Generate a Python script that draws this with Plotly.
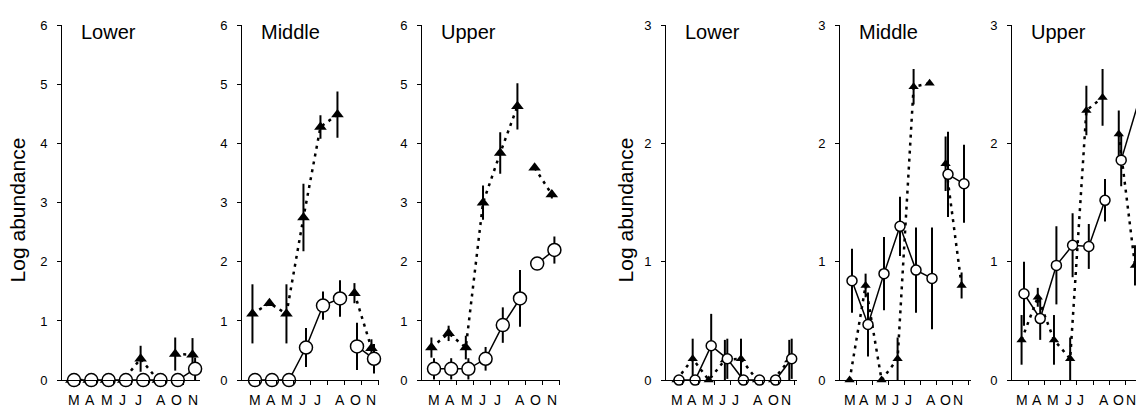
import plotly.graph_objects as go

# ---- data -----------------------------------------------------------------
months = ["M", "A", "M", "J", "J", "A", "O", "N"]
zones = ["Lower", "Middle", "Upper"]

# left group (scale 0-6)
lower_a_circ = [0, 0, 0, 0, 0, 0, 0, 0.19]
lower_a_circ_err = [0, 0, 0, 0, 0, 0, 0, 0.19]
lower_a_tri = [0, 0, 0, 0, 0.36, 0, 0.44, 0.43]
lower_a_tri_err = [0, 0, 0, 0, 0.22, 0, 0.28, 0.28]

middle_a_circ = [0, 0, 0, 0.55, 1.26, 1.38, 0.57, 0.36]
middle_a_circ_err = [0, 0, 0, 0.33, 0.24, 0.31, 0.40, 0.25]
middle_a_tri = [1.12, 1.30, 1.12, 2.75, 4.28, 4.49, 1.47, 0.54]
middle_a_tri_err = [0.50, 0, 0.50, 0.57, 0.20, 0.39, 0.17, 0.15]

upper_a_circ = [0.19, 0.19, 0.19, 0.36, 0.93, 1.38, 1.97, 2.20]
upper_a_circ_err = [0.18, 0.18, 0.18, 0.20, 0.30, 0.48, 0.10, 0.23]
upper_a_tri = [0.55, 0.79, 0.55, 3.00, 3.84, 4.63, 3.59, 3.14]
upper_a_tri_err = [0.17, 0.13, 0.20, 0.29, 0.35, 0.39, 0, 0.07]

# right group (scale 0-3)
lower_b_circ = [0, 0, 0.29, 0.18, 0, 0, 0, 0.18]
lower_b_circ_err = [0, 0, 0.27, 0.17, 0, 0, 0, 0.17]
lower_b_tri = [0, 0.18, 0, 0.17, 0.18, 0, 0, 0.17]
lower_b_tri_err = [0, 0.17, 0, 0.17, 0.17, 0, 0, 0.17]

middle_b_circ = [0.84, 0.47, 0.90, 1.30, 0.93, 0.86, 1.74, 1.66]
middle_b_circ_err = [0.27, 0.27, 0.31, 0.25, 0.36, 0.43, 0.36, 0.33]
middle_b_tri = [0, 0.80, 0, 0.18, 2.48, 2.51, 1.83, 0.80]
middle_b_tri_err = [0, 0.10, 0, 0.18, 0.15, 0, 0.23, 0.11]

upper_b_circ = [0.73, 0.52, 0.97, 1.14, 1.13, 1.52, 1.86, 2.32]
upper_b_circ_err = [0.27, 0.18, 0.33, 0.27, 0.19, 0.18, 0.22, 0.28]
upper_b_tri = [0.34, 0.70, 0.34, 0.18, 2.28, 2.39, 2.08, 0.97]
upper_b_tri_err = [0.21, 0.08, 0.21, 0.18, 0.21, 0.24, 0.20, 0.17]

# ---- layout geometry (pixels) ----------------------------------------------
W, H = 1136, 417
Y_TOP, Y_BOT = 19, 387
FONT = "Arial, Liberation Sans, sans-serif"

# (axis left px, first point px, px per month, axis right px, y max)
panels = [
    dict(name=zones[0], ax=62, x0=74, dx=17.3, end=200, ymax=6, big=True,
         circ=lower_a_circ, ce=lower_a_circ_err, tri=lower_a_tri, te=lower_a_tri_err),
    dict(name=zones[1], ax=242, x0=255, dx=17.0, end=379, ymax=6, big=True,
         circ=middle_a_circ, ce=middle_a_circ_err, tri=middle_a_tri, te=middle_a_tri_err),
    dict(name=zones[2], ax=422, x0=434, dx=17.2, end=560, ymax=6, big=True,
         circ=upper_a_circ, ce=upper_a_circ_err, tri=upper_a_tri, te=upper_a_tri_err),
    dict(name=zones[0], ax=666, x0=679, dx=16.1, end=797, ymax=3, big=False,
         circ=lower_b_circ, ce=lower_b_circ_err, tri=lower_b_tri, te=lower_b_tri_err),
    dict(name=zones[1], ax=840, x0=852, dx=16.0, end=971, ymax=3, big=False,
         circ=middle_b_circ, ce=middle_b_circ_err, tri=middle_b_tri, te=middle_b_tri_err),
    dict(name=zones[2], ax=1012, x0=1024, dx=16.2, end=1136, ymax=3, big=False,
         circ=upper_b_circ, ce=upper_b_circ_err, tri=upper_b_tri, te=upper_b_tri_err),
]

# month label offsets (in month units) for the two panel sizes
label_pos_big = [0, 0.95, 1.9, 2.8, 3.7, 5.0, 5.9, 6.85]
label_pos_small = [-0.15, 0.78, 1.8, 2.73, 3.5, 4.93, 5.85, 6.62]

TRI_SHIFT = -0.15          # triangles sit slightly left of the circles
SEGMENTS = [(0, 6), (6, 8)]  # no sampling in September -> line break

fig = go.Figure()
annotations = []


def px_to_paper_x(p):
    return p / W


def px_to_paper_y(p):
    return 1 - p / H


for k, p in enumerate(panels, start=1):
    xa = "x" if k == 1 else f"x{k}"
    ya = "y" if k == 1 else f"y{k}"
    xr = [(p["ax"] - p["x0"]) / p["dx"], (p["end"] - p["x0"]) / p["dx"]]
    msize_c = 13 if p["big"] else 10
    msize_t = 11 if p["big"] else 9

    for series, err, is_tri in ((p["tri"], p["te"], True), (p["circ"], p["ce"], False)):
        for a, b in SEGMENTS:
            xs = [i + (TRI_SHIFT if is_tri else 0) for i in range(a, b)]
            ys = series[a:b]
            e_up = err[a:b]
            e_dn = [min(e, v) for e, v in zip(e_up, ys)]
            fig.add_trace(go.Scatter(
                x=xs, y=ys, xaxis=xa, yaxis=ya, mode="lines+markers",
                cliponaxis=False, showlegend=False, hoverinfo="skip",
                line=dict(color="black", width=2.5 if is_tri else 1.5,
                          dash="3px,5px" if is_tri else "solid"),
                marker=dict(symbol="triangle-up" if is_tri else "circle",
                            size=msize_t if is_tri else msize_c,
                            color="black" if is_tri else "white",
                            line=dict(color="black", width=0 if is_tri else 1.5)),
                error_y=dict(type="data", symmetric=False, array=e_up,
                             arrayminus=e_dn, color="black", thickness=2, width=0),
            ))

    axis_key = "xaxis" if k == 1 else f"xaxis{k}"
    yaxis_key = "yaxis" if k == 1 else f"yaxis{k}"
    fig.update_layout(**{
        axis_key: dict(
            domain=[px_to_paper_x(p["ax"]), px_to_paper_x(p["end"])],
            range=xr, anchor=ya, showgrid=False, zeroline=False,
            showline=True, linecolor="black", linewidth=1,
            ticks="outside", ticklen=4, tickcolor="black", tickwidth=1,
            tickvals=[xr[0] + j for j in range(1, 9)], showticklabels=False,
            fixedrange=True,
        ),
        yaxis_key: dict(
            domain=[px_to_paper_y(Y_BOT), px_to_paper_y(Y_TOP)],
            range=[0, p["ymax"]], anchor=xa, showgrid=False, zeroline=False,
            showline=True, linecolor="black", linewidth=1,
            ticks="outside", ticklen=4, tickcolor="black", tickwidth=1,
            tickvals=list(range(0, p["ymax"] + 1)),
            tickfont=dict(family=FONT, size=13, color="black"),
            ticklabelstandoff=7, fixedrange=True,
        ),
    })

    # panel title
    annotations.append(dict(
        text=p["name"], xref="paper", yref="paper",
        x=px_to_paper_x(p["ax"] + 17), y=px_to_paper_y(26),
        xanchor="left", yanchor="middle", showarrow=False,
        font=dict(family=FONT, size=20, color="black"),
    ))

    # month labels under the axis
    lp = label_pos_big if p["big"] else label_pos_small
    for m, pos in zip(months, lp):
        annotations.append(dict(
            text=m, xref=xa, yref="paper", x=pos, y=px_to_paper_y(408),
            xanchor="center", yanchor="middle", showarrow=False,
            font=dict(family=FONT, size=14, color="black"),
        ))

# y-axis titles for both groups
for xc in (17, 625):
    annotations.append(dict(
        text="Log abundance", xref="paper", yref="paper",
        x=px_to_paper_x(xc), y=px_to_paper_y(211), textangle=-90,
        xanchor="center", yanchor="middle", showarrow=False,
        font=dict(family=FONT, size=21, color="black"),
    ))

fig.update_layout(
    width=W, height=H, autosize=False,
    margin=dict(l=0, r=0, t=0, b=0),
    paper_bgcolor="white", plot_bgcolor="white",
    annotations=annotations,
)

fig.write_html("out.html", config={"displayModeBar": False})
